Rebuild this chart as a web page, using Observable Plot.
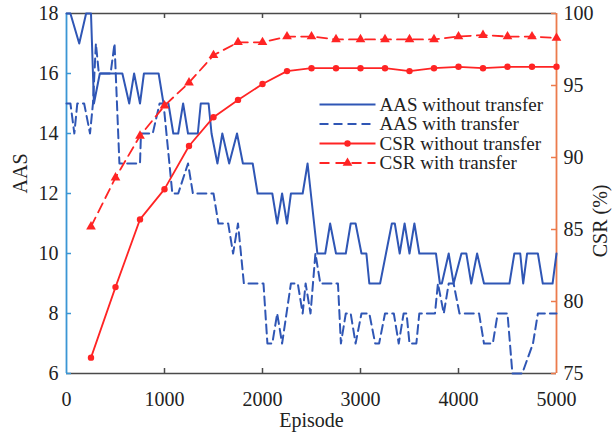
<!DOCTYPE html>
<html><head><meta charset="utf-8">
<script src="https://cdn.jsdelivr.net/npm/d3@7"></script>
<script src="https://cdn.jsdelivr.net/npm/@observablehq/plot@0.6"></script>
<style>body{margin:0;background:#fff}</style>
</head><body><div id="chart"></div>
<script>
// ---- data ----
const aasNoEp = [0,40,130,200,250,280,340,570,640,690,750,790,940,990,1040,1090,1140,1190,1240,1340,1370,1450,1480,1540,1590,1660,1740,1800,1900,1950,2100,2150,2200,2250,2290,2410,2460,2560,2640,2690,2750,2850,2900,2950,3010,3060,3090,3200,3260,3320,3350,3400,3450,3500,3550,3600,3770,3810,3830,3900,3950,4030,4080,4130,4190,4260,4520,4570,4630,4660,4700,4810,4860,4960,5000];
const aasNoVal = [18,18,17,18,18,15,16,16,15,16,15,16,16,15,15,14,14,15,14,14,15,15,14,13,14,13,14,13,13,12,12,11,12,11,12,12,13,10,10,11,10,10,11,11,10,10,9,9,10,11,11,10,11,10,11,10,10,9,9,10,9,10,10,9,10,9,9,10,10,9,10,10,9,9,10];
const aasTrEp = [0,40,80,110,180,240,270,300,330,450,490,540,750,760,880,950,990,1080,1140,1240,1290,1500,1550,1650,1700,1750,1810,2010,2050,2100,2150,2200,2290,2360,2410,2440,2490,2540,2590,2770,2800,2850,2900,2950,3010,3090,3150,3190,3250,3340,3390,3440,3470,3500,3570,3600,3760,3790,3850,3900,3950,4010,4210,4260,4350,4400,4500,4550,4650,4760,4810,5000];
const aasTrVal = [15,15,14,15,15,14,15,17,16,16,17,13,13,14,14,15,15,12,12,13,12,12,11,11,10,11,9,9,7,7,8,7,9,9,8,9,8,10,9,9,7,8,8,7,8,8,7,7,8,8,7,8,8,7,7,8,8,9,8,9,9,8,8,7,7,8,8,6,6,7,8,8];
const csrEp = [250,500,750,1000,1250,1500,1750,2000,2250,2500,2750,3000,3250,3500,3750,4000,4250,4500,4750,5000];
const csrNo = [76.1,81.0,85.7,87.8,90.8,92.8,94.0,95.1,96.0,96.2,96.2,96.2,96.2,96.0,96.2,96.3,96.2,96.3,96.3,96.3];
const csrTr = [85.2,88.6,91.5,93.6,95.2,97.1,98.0,98.0,98.4,98.4,98.2,98.2,98.2,98.2,98.2,98.4,98.5,98.4,98.4,98.3];
const xTicks = [0,1000,2000,3000,4000,5000];
const aasTicks = [6,8,10,12,14,16,18];
const csrTicks = [75,80,85,90,95,100];
const legendLabels = ["AAS without transfer","AAS with transfer","CSR without transfer","CSR with transfer"];

// ---- layout / style ----
const W = 615, H = 434, mL = 66, mR = 59, mT = 13, mB = 61;
const aasDom = [6, 18], csrDom = [75, 100], epDom = [0, 5000];
const BLUE = "#2f56b5", RED = "#ff2424", LAX = "#3a96d4", RAX = "#ec7b4c", FRAME = "#4a4a4a";
const FONT = "Liberation Serif, Times New Roman, serif";
const toAAS = c => aasDom[0] + (c - csrDom[0]) * (aasDom[1] - aasDom[0]) / (csrDom[1] - csrDom[0]);
const xPx = d3.scaleLinear(epDom, [mL, W - mR]);
const yPx = d3.scaleLinear(aasDom, [H - mB, mT]);
const tickLen = 5;
const tx = xPx.invert(mL + tickLen) - epDom[0];
const ty = yPx.invert(H - mB - tickLen) - aasDom[0];

const a1 = aasNoEp.map((e, i) => ({ep: e, v: aasNoVal[i]}));
const a2 = aasTrEp.map((e, i) => ({ep: e, v: aasTrVal[i]}));
const c1 = csrEp.map((e, i) => ({ep: e, v: toAAS(csrNo[i])}));
const c2 = csrEp.map((e, i) => ({ep: e, v: toAAS(csrTr[i])}));
const innerX = xTicks.slice(1, -1);
const csrTickPos = csrTicks.map(toAAS);

const legStyle = [
  {color: BLUE, dash: null, sym: null},
  {color: BLUE, dash: "9,5", sym: null},
  {color: RED, dash: null, sym: "circle"},
  {color: RED, dash: "10,6", sym: "triangle"}
];
const legRows = legendLabels.map((label, i) => ({
  label, y: yPx.invert(104 + i * 19.5),
  x1: xPx.invert(319), x2: xPx.invert(375), xm: xPx.invert(347), xt: xPx.invert(379),
  ...legStyle[i]
}));

const marks = [
  // frame
  Plot.ruleY([aasDom[1]], {stroke: FRAME, strokeWidth: 1.5}),
  Plot.ruleY([aasDom[0]], {stroke: FRAME, strokeWidth: 1.5}),
  Plot.ruleX(innerX, {y1: aasDom[0], y2: aasDom[0] + ty, stroke: FRAME, strokeWidth: 1.5}),
  Plot.ruleX(innerX, {y1: aasDom[1] - ty, y2: aasDom[1], stroke: FRAME, strokeWidth: 1.5}),
  Plot.ruleX([epDom[0]], {stroke: LAX, strokeWidth: 1.8}),
  Plot.ruleX([epDom[1]], {stroke: RAX, strokeWidth: 1.8}),
  Plot.ruleY(aasTicks, {x1: epDom[0], x2: epDom[0] + tx, stroke: LAX, strokeWidth: 1.5}),
  Plot.ruleY(csrTickPos, {x1: epDom[1] - tx, x2: epDom[1], stroke: RAX, strokeWidth: 1.5}),
  // axes labels
  Plot.axisX(xTicks, {anchor: "bottom", tickSize: 0, tickPadding: 18, label: null, fontSize: 20, fill: "#222", tickFormat: d => String(d)}),
  Plot.axisY(aasTicks, {anchor: "left", tickSize: 0, tickPadding: 8, label: null, fontSize: 20, fill: "#222", tickFormat: d => String(d)}),
  Plot.axisY(csrTickPos, {anchor: "right", tickSize: 0, tickPadding: 7, label: null, fontSize: 20, fill: "#222",
    tickFormat: d => String(Math.round(csrDom[0] + (d - aasDom[0]) * (csrDom[1] - csrDom[0]) / (aasDom[1] - aasDom[0])))}),
  Plot.text(["Episode"], {text: d => d, frameAnchor: "bottom", dy: 53, fontSize: 20, fill: "#222"}),
  Plot.text(["AAS"], {text: d => d, frameAnchor: "left", dx: -46, rotate: -90, fontSize: 20, fill: "#222"}),
  Plot.text(["CSR (%)"], {text: d => d, frameAnchor: "right", dx: 44, dy: -9, rotate: -90, fontSize: 20, fill: "#222"}),
  // data
  Plot.line(a2, {x: "ep", y: "v", stroke: BLUE, strokeWidth: 2, strokeDasharray: "9,5"}),
  Plot.line(a1, {x: "ep", y: "v", stroke: BLUE, strokeWidth: 2}),
  Plot.line(c1, {x: "ep", y: "v", stroke: RED, strokeWidth: 1.8}),
  Plot.dot(c1, {x: "ep", y: "v", r: 3.2, fill: RED, stroke: "none"}),
  Plot.line(c2, {x: "ep", y: "v", stroke: RED, strokeWidth: 1.8, strokeDasharray: "10,6"}),
  Plot.dot(c2, {x: "ep", y: "v", r: 3.6, symbol: "triangle", fill: RED, stroke: "none"}),
  // legend
  ...legRows.map(r => Plot.link([r], {x1: "x1", x2: "x2", y1: "y", y2: "y", stroke: r.color, strokeWidth: 2, strokeDasharray: r.dash})),
  ...legRows.filter(r => r.sym).map(r => Plot.dot([r], {x: "xm", y: "y", r: r.sym === "triangle" ? 3.6 : 3.2, symbol: r.sym, fill: r.color, stroke: "none"})),
  Plot.text(legRows, {x: "xt", y: "y", text: "label", textAnchor: "start", fontSize: 19, fill: "#222"})
];

const chart = Plot.plot({
  width: W, height: H,
  marginLeft: mL, marginRight: mR, marginTop: mT, marginBottom: mB,
  style: {fontFamily: FONT, fontSize: "20px", background: "#fff", overflow: "visible"},
  x: {domain: epDom},
  y: {domain: aasDom},
  marks
});
document.getElementById("chart").appendChild(chart);
</script>
</body></html>
